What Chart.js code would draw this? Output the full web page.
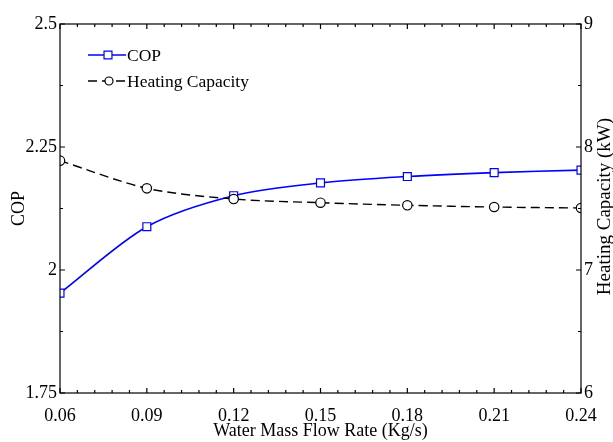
<!DOCTYPE html>
<html>
<head>
<meta charset="utf-8">
<script src="https://cdn.jsdelivr.net/npm/chart.js@4.4.0/dist/chart.umd.min.js"></script>
<style>
html,body{margin:0;padding:0;background:#fff;}
#wrap{width:613px;height:442px;}
</style>
</head>
<body>
<div id="wrap"><canvas id="c" width="613" height="442"></canvas></div>
<script>
// ---- data ----
const flowRates = [0.06, 0.09, 0.12, 0.15, 0.18, 0.21, 0.24];
const copValues = [1.953, 2.088, 2.151, 2.177, 2.190, 2.198, 2.203];
const heatingCapacity = [7.889, 7.664, 7.577, 7.547, 7.526, 7.512, 7.504];

const xTickValues = [0.06, 0.09, 0.12, 0.15, 0.18, 0.21, 0.24];
const xTickLabels = ['0.06', '0.09', '0.12', '0.15', '0.18', '0.21', '0.24'];
const yTickValues = [1.75, 2, 2.25, 2.5];
const yTickLabels = ['1.75', '2', '2.25', '2.5'];
const y1TickValues = [6, 7, 8, 9];
const y1TickLabels = ['6', '7', '8', '9'];

const seriesNames = ['COP', 'Heating Capacity'];
const xTitle = 'Water Mass Flow Rate (Kg/s)';
const yTitle = 'COP';
const y1Title = 'Heating Capacity (kW)';

// ---- styling ----
const FAMILY = "'Liberation Serif', 'Times New Roman', serif";
const FONT = {family: FAMILY, size: 18};
const BLUE = '#0000FF';

function labelFor(values, labels) {
  return function (v) {
    for (let i = 0; i < values.length; i++) {
      if (Math.abs(values[i] - v) < 1e-6) return labels[i];
    }
    return '';
  };
}

const framePlugin = {
  id: 'frame',
  afterDraw(chart) {
    const {ctx, chartArea: a, scales} = chart;
    ctx.save();
    ctx.strokeStyle = '#000';
    ctx.lineWidth = 1.2;
    ctx.strokeRect(a.left, a.top, a.right - a.left, a.bottom - a.top);
    const maj = 5, mnr = 3;
    ctx.beginPath();
    const xs = scales.x;
    for (let k = 0; k <= 30; k++) {
      const v = 0.06 + k * 0.006;
      const px = xs.getPixelForValue(v);
      const len = (k % 5 === 0) ? maj : mnr;
      ctx.moveTo(px, a.bottom); ctx.lineTo(px, a.bottom - len);
      ctx.moveTo(px, a.top); ctx.lineTo(px, a.top + len);
    }
    const ys = scales.y;
    for (let k = 0; k <= 6; k++) {
      const v = 1.75 + k * 0.125;
      const py = ys.getPixelForValue(v);
      const len = (k % 2 === 0) ? maj : mnr;
      ctx.moveTo(a.left, py); ctx.lineTo(a.left + len, py);
    }
    const y1 = scales.y1;
    for (let k = 0; k <= 6; k++) {
      const v = 6 + k * 0.5;
      const py = y1.getPixelForValue(v);
      const len = (k % 2 === 0) ? maj : mnr;
      ctx.moveTo(a.right, py); ctx.lineTo(a.right - len, py);
    }
    ctx.stroke();

    // right axis title (reads bottom to top)
    ctx.fillStyle = '#000';
    ctx.font = "19px " + FAMILY;
    ctx.textAlign = 'center';
    ctx.textBaseline = 'middle';
    ctx.translate(605, (a.top + a.bottom) / 2 - 2);
    ctx.rotate(-Math.PI / 2);
    ctx.fillText(y1Title, 0, 0);
    ctx.restore();

    // legend
    ctx.save();
    const rows = [
      {ds: chart.data.datasets[1], y: 55},
      {ds: chart.data.datasets[0], y: 81}
    ];
    rows.forEach((r) => {
      const ds = r.ds;
      ctx.strokeStyle = ds.borderColor;
      ctx.lineWidth = ds.borderWidth;
      ctx.setLineDash(ds.borderDash || []);
      ctx.beginPath();
      ctx.moveTo(88, r.y);
      ctx.lineTo(126, r.y);
      ctx.stroke();
      ctx.setLineDash([]);
      ctx.fillStyle = '#fff';
      ctx.lineWidth = ds.pointBorderWidth;
      ctx.strokeStyle = ds.pointBorderColor;
      ctx.beginPath();
      if (ds.pointStyle === 'rect') {
        const s = ds.pointRadius * Math.SQRT1_2;
        ctx.rect(108 - s, r.y - s, 2 * s, 2 * s);
      } else {
        ctx.arc(109, r.y, ds.pointRadius * 0.85, 0, Math.PI * 2);
      }
      ctx.fill();
      ctx.stroke();
      ctx.fillStyle = '#000';
      ctx.font = "17.5px " + FAMILY;
      ctx.textAlign = 'left';
      ctx.textBaseline = 'middle';
      ctx.fillText(ds.label, 127, r.y + 1);
    });
    ctx.restore();
  }
};

new Chart(document.getElementById('c'), {
  type: 'line',
  data: {
    datasets: [
      {
        label: seriesNames[1],
        data: flowRates.map((x, i) => ({x: x, y: heatingCapacity[i]})),
        yAxisID: 'y1',
        borderColor: '#000',
        borderWidth: 1.4,
        borderDash: [9, 5],
        pointStyle: 'circle',
        pointRadius: 4.7,
        pointBorderWidth: 1.2,
        pointBorderColor: '#000',
        pointBackgroundColor: '#fff',
        tension: 0.3,
        fill: false,
        order: 0
      },
      {
        label: seriesNames[0],
        data: flowRates.map((x, i) => ({x: x, y: copValues[i]})),
        yAxisID: 'y',
        borderColor: BLUE,
        borderWidth: 1.6,
        pointStyle: 'rect',
        pointRadius: 5.6,
        pointBorderWidth: 1.2,
        pointBorderColor: BLUE,
        pointBackgroundColor: '#fff',
        tension: 0.3,
        fill: false,
        order: 1
      }
    ]
  },
  options: {
    responsive: false,
    animation: false,
    devicePixelRatio: 1,
    layout: {padding: {top: 24, left: 0, right: 0, bottom: 0}},
    plugins: {legend: {display: false}, tooltip: {enabled: false}},
    scales: {
      x: {
        type: 'linear', min: 0.06, max: 0.24,
        grid: {display: false, drawTicks: false},
        border: {display: false},
        afterBuildTicks: s => { s.ticks = xTickValues.map(v => ({value: v})); },
        ticks: {font: FONT, color: '#000', padding: 12, maxRotation: 0, autoSkip: false,
                callback: labelFor(xTickValues, xTickLabels)},
        title: {display: true, text: xTitle, font: FONT, color: '#000', padding: {top: 0, bottom: 0}},
        afterFit: s => { s.height = 49; }
      },
      y: {
        type: 'linear', position: 'left', min: 1.75, max: 2.5,
        grid: {display: false, drawTicks: false},
        border: {display: false},
        afterBuildTicks: s => { s.ticks = yTickValues.map(v => ({value: v})); },
        ticks: {font: FONT, color: '#000', padding: 3, autoSkip: false,
                callback: labelFor(yTickValues, yTickLabels)},
        title: {display: true, text: yTitle, font: FONT, color: '#000', padding: {top: 8, bottom: 0}},
        afterFit: s => { s.width = 60; }
      },
      y1: {
        type: 'linear', position: 'right', min: 6, max: 9,
        grid: {display: false, drawTicks: false},
        border: {display: false},
        afterBuildTicks: s => { s.ticks = y1TickValues.map(v => ({value: v})); },
        ticks: {font: FONT, color: '#000', padding: 3, autoSkip: false,
                callback: labelFor(y1TickValues, y1TickLabels)},
        afterFit: s => { s.width = 32; }
      }
    }
  },
  plugins: [framePlugin]
});
</script>
</body>
</html>
